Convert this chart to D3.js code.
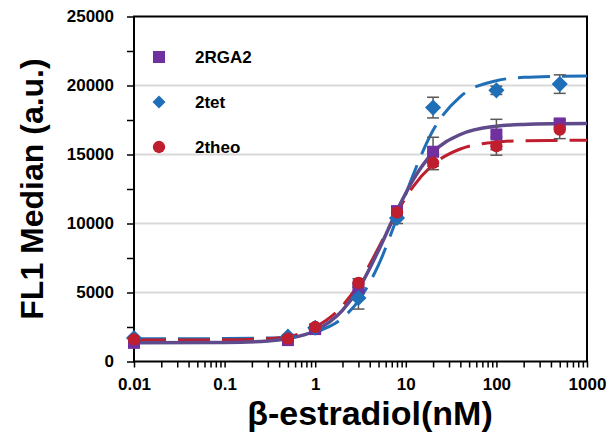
<!DOCTYPE html>
<html>
<head>
<meta charset="utf-8">
<script src="https://cdn.jsdelivr.net/npm/d3@7"></script>
<style>
  body { margin: 0; background: #fff; }
  svg { display: block; }
  text { font-family: "Liberation Sans", Arial, sans-serif; font-weight: bold; fill: #000; }
</style>
</head>
<body>
<script>
//beta-estradiol concentrations (nM)
var doses = [0.01, 0.5, 1, 3, 8, 20, 100, 500];

//measured medians per strain
var rga2 = [1350, 1550, 2350, 5300, 10900, 15200, 16450, 17250],
    tet = [1700, 1800, 2450, 4600, 10400, 18400, 19650, 20100],
    theo = [1600, 1650, 2500, 5700, 10800, 14400, 15600, 16800];

//error bars
var rga2Err = [100, 100, 150, 300, 300, 1050, 1100, 300],
    tetErr = [100, 150, 150, 800, 400, 750, 300, 670],
    theoErr = [100, 100, 150, 300, 300, 500, 650, 650];

//fitted curves
var fitX = [0.01, 0.1, 0.3, 0.5, 1, 2, 3, 5, 8, 12, 20, 40, 100, 200, 500, 1000];
var rga2Fit = [1350, 1380, 1480, 1660, 2230, 3700, 5250, 8050, 10950, 13150, 15150, 16450, 17050, 17180, 17230, 17250],
    tetFit = [1650, 1660, 1700, 1780, 2120, 3150, 4400, 7000, 10400, 13500, 16750, 19200, 20350, 20590, 20670, 20690],
    theoFit = [1550, 1570, 1660, 1800, 2490, 4040, 5600, 8240, 10800, 12660, 14260, 15400, 15900, 16000, 16020, 16030];

var seriesNames = ["2RGA2", "2tet", "2theo"];
var yTicks = [0, 5000, 10000, 15000, 20000, 25000];
var xTicks = [0.01, 0.1, 1, 10, 100, 1000];

drawChart();

function drawChart(){

    var width = 611, height = 442;
    var left = 134, right = 587, plotTop = 16.5, plotBottom = 361.5;

    var svg = d3.select("body").append("svg")
        .attr("width", width)
        .attr("height", height);

    var x = d3.scaleLog().domain([0.01, 1000]).range([left, right]);
    var y = d3.scaleLinear().domain([0, 25000]).range([plotBottom, plotTop]);

    //gridlines
    svg.selectAll(".grid")
        .data(yTicks.slice(1, -1))
        .enter()
        .append("line")
        .attr("x1", left).attr("x2", right)
        .attr("y1", d => y(d)).attr("y2", d => y(d))
        .attr("stroke", "#d9d9d9")
        .attr("stroke-width", 2);

    //y axis
    var yMinor = d3.range(0, 25001, 2500);
    svg.append("g")
        .attr("transform", "translate(" + left + ",0)")
        .call(d3.axisLeft(y).tickValues(yMinor).tickSize(7).tickFormat(d => yTicks.indexOf(d) >= 0 ? d : ""))
        .call(g => g.select(".domain").remove())
        .call(g => g.selectAll(".tick line").attr("stroke", "#000").attr("stroke-width", 1.5))
        .call(g => g.selectAll("text").attr("x", -20).style("font-size", "17px").style("font-family", "Liberation Sans, Arial").style("font-weight", "bold").attr("fill", "#000"));

    //x axis with log minor ticks
    var xMinor = [];
    [0.01, 0.1, 1, 10, 100].forEach(function(d){
        for (var k = 1; k < 10; k++) xMinor.push(d * k);
    });
    xMinor.push(1000);
    svg.append("g")
        .attr("transform", "translate(0," + plotBottom + ")")
        .call(d3.axisBottom(x).tickValues(xMinor).tickSize(6).tickFormat(d => xTicks.some(t => Math.abs(t - d) < 1e-9) ? d3.format("~")(d) : ""))
        .call(g => g.select(".domain").remove())
        .call(g => g.selectAll(".tick line").attr("stroke", "#000").attr("stroke-width", 1.5))
        .call(g => g.selectAll("text").attr("y", 16).style("font-size", "17px").style("font-family", "Liberation Sans, Arial").style("font-weight", "bold").attr("fill", "#000"));

    //plot frame
    svg.append("rect")
        .attr("x", left).attr("y", plotTop)
        .attr("width", right - left).attr("height", plotBottom - plotTop)
        .attr("fill", "none")
        .attr("stroke", "#000")
        .attr("stroke-width", 2);

    //fitted curves
    var line = d3.line()
        .x((d, i) => x(fitX[i]))
        .y(d => y(d))
        .curve(d3.curveMonotoneX);

    svg.append("path").datum(tetFit)
        .attr("d", line).attr("fill", "none")
        .attr("stroke", "#1f6fb8").attr("stroke-width", 3)
        .attr("stroke-dasharray", "32,12");
    svg.append("path").datum(theoFit)
        .attr("d", line).attr("fill", "none")
        .attr("stroke", "#be1e2d").attr("stroke-width", 3)
        .attr("stroke-dasharray", "32,12");
    svg.append("path").datum(rga2Fit)
        .attr("d", line).attr("fill", "none")
        .attr("stroke", "#5f4a8b").attr("stroke-width", 3.5);

    //error bars
    function errorBars(vals, errs){
        var g = svg.append("g").attr("stroke", "#595959").attr("stroke-width", 1.5);
        doses.forEach(function(d, i){
            var cx = x(d), y0 = y(vals[i] - errs[i]), y1 = y(vals[i] + errs[i]);
            g.append("line").attr("x1", cx).attr("x2", cx).attr("y1", y0).attr("y2", y1);
            g.append("line").attr("x1", cx - 6).attr("x2", cx + 6).attr("y1", y0).attr("y2", y0);
            g.append("line").attr("x1", cx - 6).attr("x2", cx + 6).attr("y1", y1).attr("y2", y1);
        });
    }
    errorBars(rga2, rga2Err);
    errorBars(tet, tetErr);
    errorBars(theo, theoErr);

    //markers
    var square = d3.symbol().type(d3.symbolSquare).size(144),
        diamond = d3.symbol().type(d3.symbolSquare).size(130),
        circle = d3.symbol().type(d3.symbolCircle).size(120);

    svg.selectAll(".rga2").data(rga2).enter().append("path")
        .attr("d", square)
        .attr("transform", (d, i) => "translate(" + x(doses[i]) + "," + y(d) + ")")
        .attr("fill", "#7030a0");
    svg.selectAll(".tet").data(tet).enter().append("path")
        .attr("d", diamond)
        .attr("transform", (d, i) => "translate(" + x(doses[i]) + "," + y(d) + ") rotate(45)")
        .attr("fill", "#1f6fb8");
    svg.selectAll(".theo").data(theo).enter().append("path")
        .attr("d", circle)
        .attr("transform", (d, i) => "translate(" + x(doses[i]) + "," + y(d) + ")")
        .attr("fill", "#be1e2d");

    //legend
    var legendY = [57, 102, 147];
    var legendShapes = [square, d3.symbol().type(d3.symbolSquare).size(85), circle];
    var legendColors = ["#7030a0", "#1f6fb8", "#be1e2d"];
    seriesNames.forEach(function(name, i){
        svg.append("path")
            .attr("d", legendShapes[i])
            .attr("transform", "translate(159," + legendY[i] + ")" + (i == 1 ? " rotate(45)" : ""))
            .attr("fill", legendColors[i]);
        svg.append("text")
            .attr("x", 195).attr("y", legendY[i] + 6)
            .style("font-size", "17px")
            .text(name);
    });

    //axis titles
    svg.append("text")
        .attr("transform", "translate(43," + ((plotTop + plotBottom) / 2) + ") rotate(-90)")
        .attr("text-anchor", "middle")
        .style("font-size", "32px")
        .text("FL1 Median (a.u.)");

    svg.append("text")
        .attr("x", 370).attr("y", 425)
        .attr("text-anchor", "middle")
        .style("font-size", "34px")
        .text("β-estradiol(nM)");
}
</script>
</body>
</html>
